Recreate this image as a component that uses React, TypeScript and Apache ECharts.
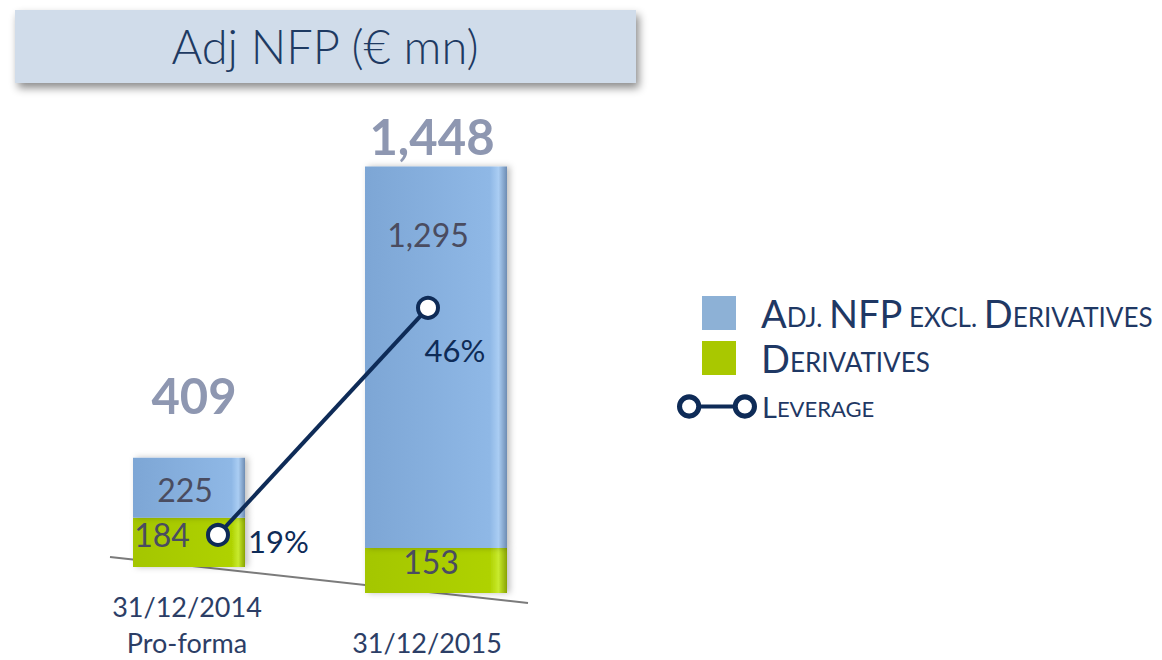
import React, { useEffect, useRef } from 'react';
import * as echarts from 'echarts';

const categories = ['31/12/2014\nPro-forma', '31/12/2015'];
const derivatives = [184, 153];
const adjExcl = [225, 1295];
const totals = [409, 1448];
const leverage = [19, 46];
const seriesNames = ['Adj. NFP excl. Derivatives', 'Derivatives', 'Leverage'];
const titleText = 'Adj NFP (€ mn)';

const FONT = 'Lato, "Open Sans", sans-serif';
const NAVY = '#0e2b57';
const LABEL_GREY = '#4a4c60';
const TOTAL_GREY = '#8e97b1';
const LEGEND_TEXT = '#1f3864';

const LEV_ICON =
  'path://M0.5,13 A12,12 0 1 1 24.5,13 A12,12 0 1 1 0.5,13 Z ' +
  'M5.5,13 A7,7 0 1 0 19.5,13 A7,7 0 1 0 5.5,13 Z ' +
  'M55.5,13 A12,12 0 1 1 79.5,13 A12,12 0 1 1 55.5,13 Z ' +
  'M60.5,13 A7,7 0 1 0 74.5,13 A7,7 0 1 0 60.5,13 Z ' +
  'M24,11 L56,11 L56,15 L24,15 Z';

function smallCaps(name: string): string {
  let out = '';
  let cur = '';
  let buf = '';
  for (const ch of name) {
    const t = /[A-Z]/.test(ch) ? 'b' : 's';
    if (t !== cur && buf) {
      out += `{${cur}|${buf}}`;
      buf = '';
    }
    cur = t;
    buf += ch.toUpperCase();
  }
  if (buf) out += `{${cur}|${buf}}`;
  return out;
}

const fmt = (p: any) => Number(p.value).toLocaleString('en-US');

const blueGrad = new echarts.graphic.LinearGradient(0, 0, 1, 0, [
  { offset: 0, color: '#7da6d5' },
  { offset: 0.88, color: '#8fb8e6' },
  { offset: 0.94, color: '#aacdf3' },
  { offset: 1, color: '#6d8cb3' },
]);
const greenGrad = new echarts.graphic.LinearGradient(0, 0, 1, 0, [
  { offset: 0, color: '#a4c600' },
  { offset: 0.88, color: '#afd200' },
  { offset: 0.94, color: '#c8ea2e' },
  { offset: 1, color: '#88a300' },
]);

export default function App() {
  const ref = useRef<HTMLDivElement>(null);

  useEffect(() => {
    document.body.style.margin = '0';
    if (!ref.current) return;
    const chart = echarts.init(ref.current, undefined, { renderer: 'svg' });

    const barWidths = [112, 142];
    const yMax = [1748, 1674];
    const barShadow = { shadowBlur: 6, shadowColor: 'rgba(0,0,0,0.25)', shadowOffsetX: 3 };

    const barSeries: any[] = [];
    [0, 1].forEach((i) => {
      barSeries.push({
        type: 'bar',
        name: seriesNames[1],
        xAxisIndex: i,
        yAxisIndex: i,
        stack: 'nfp' + i,
        barWidth: barWidths[i],
        barGap: '-100%',
        data: [derivatives[i]],
        itemStyle: { color: greenGrad, ...barShadow },
        label: {
          show: true,
          position: 'inside',
          offset: i === 0 ? [-27, -8] : [-5, -9],
          formatter: fmt,
          fontSize: 32,
          fontFamily: FONT,
          color: LABEL_GREY,
        },
      });
      barSeries.push({
        type: 'bar',
        name: seriesNames[0],
        xAxisIndex: i,
        yAxisIndex: i,
        stack: 'nfp' + i,
        barWidth: barWidths[i],
        barGap: '-100%',
        data: [adjExcl[i]],
        itemStyle: { color: blueGrad, ...barShadow },
        label: {
          show: true,
          position: i === 0 ? 'inside' : 'insideTop',
          distance: i === 0 ? 5 : 52,
          offset: i === 0 ? [-4, 2] : [-8, 0],
          formatter: fmt,
          fontSize: 32,
          fontFamily: FONT,
          color: LABEL_GREY,
        },
      });
      barSeries.push({
        type: 'bar',
        name: 'Total',
        xAxisIndex: i,
        yAxisIndex: i,
        barWidth: barWidths[i],
        barGap: '-100%',
        silent: true,
        data: [totals[i]],
        itemStyle: { color: 'rgba(0,0,0,0)' },
        label: {
          show: true,
          position: 'top',
          distance: i === 0 ? 38 : 6,
          offset: i === 0 ? [5, 0] : [-4, 0],
          formatter: fmt,
          fontSize: 49,
          fontWeight: 'bold',
          fontFamily: FONT,
          color: TOTAL_GREY,
        },
        z: 3,
      });
    });

    const levLabels = [
      { position: 'right', distance: 18, offset: [0, 6] },
      { position: 'bottom', distance: 15, offset: [27, 0] },
    ];

    const legendRich = {
      b: { fontSize: 38, lineHeight: 34, fontFamily: FONT, color: LEGEND_TEXT },
      s: { fontSize: 26, lineHeight: 26, verticalAlign: 'bottom', fontFamily: FONT, color: LEGEND_TEXT },
    };
    const legendRich2 = {
      b: { fontSize: 29, lineHeight: 26, fontFamily: FONT, color: LEGEND_TEXT },
      s: { fontSize: 22, lineHeight: 22, verticalAlign: 'bottom', fontFamily: FONT, color: LEGEND_TEXT },
    };

    const catLabel = {
      fontSize: 27,
      lineHeight: 36,
      fontFamily: FONT,
      color: '#2c3e66',
    };

    chart.setOption({
      animation: false,
      title: {
        text: titleText,
        left: 325,
        top: 22,
        padding: 0,
        textAlign: 'center',
        textStyle: { fontSize: 47, fontWeight: 300, fontFamily: FONT, color: '#1e3a62' },
      },
      graphic: [
        {
          type: 'rect',
          z: 0,
          shape: { x: 15, y: 10, width: 621, height: 73 },
          style: {
            fill: '#d0dcea',
            shadowBlur: 8,
            shadowOffsetX: 3,
            shadowOffsetY: 5,
            shadowColor: 'rgba(0,0,0,0.45)',
          },
        },
        {
          type: 'line',
          z: 1,
          shape: { x1: 110, y1: 557, x2: 528, y2: 603 },
          style: { stroke: '#7b7b7b', lineWidth: 2 },
        },
      ],
      legend: [
        {
          orient: 'vertical',
          left: 697,
          top: 289,
          itemWidth: 34,
          itemHeight: 34,
          itemGap: 7,
          icon: 'rect',
          selectedMode: false,
          data: [
            { name: seriesNames[0], itemStyle: { color: '#8db1d6', borderWidth: 0, shadowBlur: 0 } },
            { name: seriesNames[1], itemStyle: { color: '#a9c800', borderWidth: 0, shadowBlur: 0 } },
          ],
          formatter: smallCaps,
          textStyle: { fontFamily: FONT, color: LEGEND_TEXT, padding: [0, 0, 0, 20], rich: legendRich },
        },
        {
          left: 672,
          top: 387,
          itemWidth: 80,
          itemHeight: 26,
          icon: LEV_ICON,
          selectedMode: false,
          itemStyle: { borderWidth: 0 },
          data: [{ name: seriesNames[2], itemStyle: { color: NAVY, borderWidth: 0 } }],
          formatter: smallCaps,
          textStyle: { fontFamily: FONT, color: LEGEND_TEXT, padding: [0, 0, 0, 0], rich: legendRich2 },
        },
      ],
      grid: [
        { left: 133, width: 112, top: 100, bottom: 90 },
        { left: 365, width: 142, top: 100, bottom: 64 },
        { left: 218, width: 210, top: 190, bottom: 49.3 },
      ],
      xAxis: [
        {
          type: 'category',
          gridIndex: 0,
          data: [categories[0]],
          axisLine: { show: false },
          axisTick: { show: false },
          axisLabel: { ...catLabel, margin: 21, padding: [0, 4, 0, 0] },
        },
        {
          type: 'category',
          gridIndex: 1,
          data: [categories[1]],
          axisLine: { show: false },
          axisTick: { show: false },
          axisLabel: { ...catLabel, margin: 31, padding: [0, 18, 0, 0] },
        },
        {
          type: 'category',
          gridIndex: 2,
          data: categories,
          boundaryGap: false,
          show: false,
        },
      ],
      yAxis: [
        { type: 'value', gridIndex: 0, min: 0, max: yMax[0], show: false },
        { type: 'value', gridIndex: 1, min: 0, max: yMax[1], show: false },
        { type: 'value', gridIndex: 2, min: 10, max: 60, show: false },
      ],
      series: [
        ...barSeries,
        {
          type: 'line',
          name: seriesNames[2],
          xAxisIndex: 2,
          yAxisIndex: 2,
          z: 10,
          symbol: 'circle',
          symbolSize: 20,
          lineStyle: { color: NAVY, width: 4 },
          itemStyle: { color: '#ffffff', borderColor: NAVY, borderWidth: 4 },
          label: {
            show: true,
            formatter: '{c}%',
            fontSize: 31,
            fontFamily: FONT,
            color: NAVY,
          },
          data: leverage.map((v, i) => ({ value: v, label: levLabels[i] })),
        },
      ],
    });

    return () => chart.dispose();
  }, []);

  return <div ref={ref} style={{ width: 1162, height: 660 }} />;
}
